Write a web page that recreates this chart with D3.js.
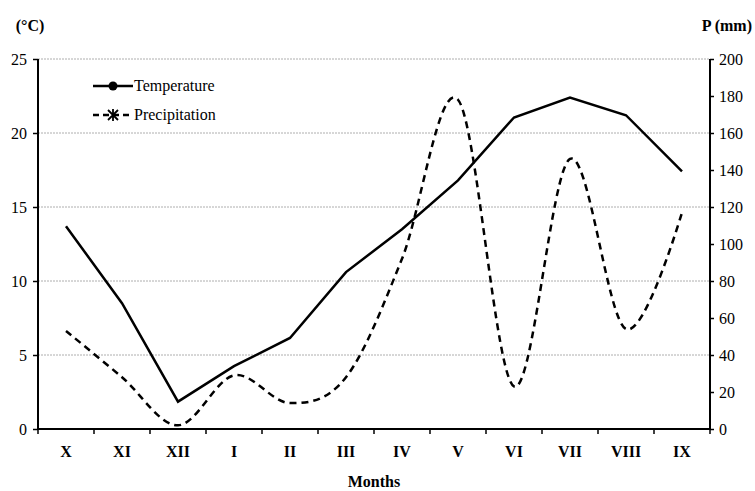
<!DOCTYPE html>
<html>
<head>
<meta charset="utf-8">
<script src="https://cdn.jsdelivr.net/npm/d3@7"></script>
<style>
  body { margin: 0; background: #fff; }
  svg text { font-family: "Liberation Serif", "Times New Roman", Times, "DejaVu Serif", serif !important; }
</style>
</head>
<body>
<div id="chart"></div>
<script>
//chart data
const months = ["X", "XI", "XII", "I", "II", "III", "IV", "V", "VI", "VII", "VIII", "IX"];
const temperature = [13.7, 8.5, 1.85, 4.25, 6.15, 10.6, 13.5, 16.8, 21.05, 22.4, 21.2, 17.4];
const precipitation = [53, 28, 2, 29, 14, 28, 92, 178, 23, 146, 54, 117];
const tempTicks = [0, 5, 10, 15, 20, 25];
const precTicks = [0, 20, 40, 60, 80, 100, 120, 140, 160, 180, 200];

const width = 755, height = 491;
const margin = { top: 59, right: 45, bottom: 62, left: 38 };
const serif = '"Liberation Serif", "Times New Roman", Times, serif';

const svg = d3.select("#chart").append("svg")
  .attr("width", width)
  .attr("height", height)
  .attr("font-family", serif);

const x = d3.scaleBand()
  .domain(months)
  .range([margin.left, width - margin.right]);

const yT = d3.scaleLinear().domain([0, 25]).range([height - margin.bottom, margin.top]);
const yP = d3.scaleLinear().domain([0, 200]).range([height - margin.bottom, margin.top]);

//gridlines at the left major ticks
svg.append("g")
  .selectAll("line")
  .data(tempTicks.filter(d => d > 0))
  .join("line")
  .attr("x1", margin.left)
  .attr("x2", width - margin.right)
  .attr("y1", d => yT(d))
  .attr("y2", d => yT(d))
  .attr("stroke", "#999")
  .attr("stroke-width", 0.8)
  .attr("stroke-dasharray", "2,1");

//left axis
const leftAxis = svg.append("g")
  .attr("transform", `translate(${margin.left},0)`)
  .call(d3.axisLeft(yT).tickValues(tempTicks).tickSize(5).tickPadding(6));

//right axis
const rightAxis = svg.append("g")
  .attr("transform", `translate(${width - margin.right},0)`)
  .call(d3.axisRight(yP).tickValues(precTicks).tickSize(4).tickPadding(5));

//bottom axis with ticks at band boundaries
const bottomAxis = svg.append("g")
  .attr("transform", `translate(0,${height - margin.bottom})`)
  .call(d3.axisBottom(x).tickSize(0).tickPadding(17));

bottomAxis.append("g")
  .selectAll("line")
  .data(months.concat(["end"]))
  .join("line")
  .attr("x1", (d, i) => margin.left + i * x.step())
  .attr("x2", (d, i) => margin.left + i * x.step())
  .attr("y1", 0)
  .attr("y2", 5)
  .attr("stroke", "#000")
  .attr("stroke-width", 1.5);

[leftAxis, rightAxis, bottomAxis].forEach(g => {
  g.attr("font-family", serif);
  g.select(".domain").attr("stroke", "#000").attr("stroke-width", 2);
  g.selectAll(".tick line").attr("stroke", "#000").attr("stroke-width", 1.5);
  g.selectAll("text")
    .attr("fill", "#000")
    .style("font-size", "16px");
});
//plain domain lines without outer stubs
leftAxis.select(".domain").attr("d", `M0,${yT(25)}V${yT(0)}`);
rightAxis.select(".domain").attr("d", `M0,${yP(200)}V${yP(0)}`);
bottomAxis.select(".domain").attr("d", `M${margin.left},0H${width - margin.right}`);
bottomAxis.selectAll("text").style("font-weight", "bold").style("font-size", "16px");

//lines
const tempLine = d3.line()
  .x((d, i) => x(months[i]) + x.bandwidth() / 2)
  .y(d => yT(d));

const precLine = d3.line()
  .x((d, i) => x(months[i]) + x.bandwidth() / 2)
  .y(d => yP(d))
  .curve(d3.curveCardinal.tension(0));

svg.append("path")
  .datum(precipitation)
  .attr("d", precLine)
  .attr("fill", "none")
  .attr("stroke", "#000")
  .attr("stroke-width", 2.5)
  .attr("stroke-dasharray", "7,5");

svg.append("path")
  .datum(temperature)
  .attr("d", tempLine)
  .attr("fill", "none")
  .attr("stroke", "#000")
  .attr("stroke-width", 2.5);

//axis titles
svg.append("text")
  .attr("x", 30)
  .attr("y", 31)
  .attr("text-anchor", "middle")
  .style("font-weight", "bold")
  .style("font-size", "16px")
  .text("(°C)");

svg.append("text")
  .attr("x", 752)
  .attr("y", 31)
  .attr("text-anchor", "end")
  .style("font-weight", "bold")
  .style("font-size", "16px")
  .text("P (mm)");

svg.append("text")
  .attr("x", (margin.left + width - margin.right) / 2)
  .attr("y", 487)
  .attr("text-anchor", "middle")
  .style("font-weight", "bold")
  .style("font-size", "16px")
  .text("Months");

//legend
const legend = svg.append("g").attr("transform", "translate(93,86)");

legend.append("line")
  .attr("x1", 0).attr("x2", 40).attr("y1", 0).attr("y2", 0)
  .attr("stroke", "#000").attr("stroke-width", 2.5);
legend.append("circle")
  .attr("cx", 20).attr("cy", 0).attr("r", 4.5).attr("fill", "#000");
legend.append("text")
  .attr("x", 41).attr("y", 5)
  .style("font-size", "16px")
  .text("Temperature");

const l2 = legend.append("g").attr("transform", "translate(0,29)");
l2.append("line")
  .attr("x1", 0).attr("x2", 40).attr("y1", 0).attr("y2", 0)
  .attr("stroke", "#000").attr("stroke-width", 2.5)
  .attr("stroke-dasharray", "6,4");
l2.append("path")
  .attr("d", "M15,-5L25,5M15,5L25,-5M20,-6V6")
  .attr("stroke", "#000").attr("stroke-width", 1.8);
l2.append("text")
  .attr("x", 41).attr("y", 5)
  .style("font-size", "16px")
  .text("Precipitation");
</script>
</body>
</html>
